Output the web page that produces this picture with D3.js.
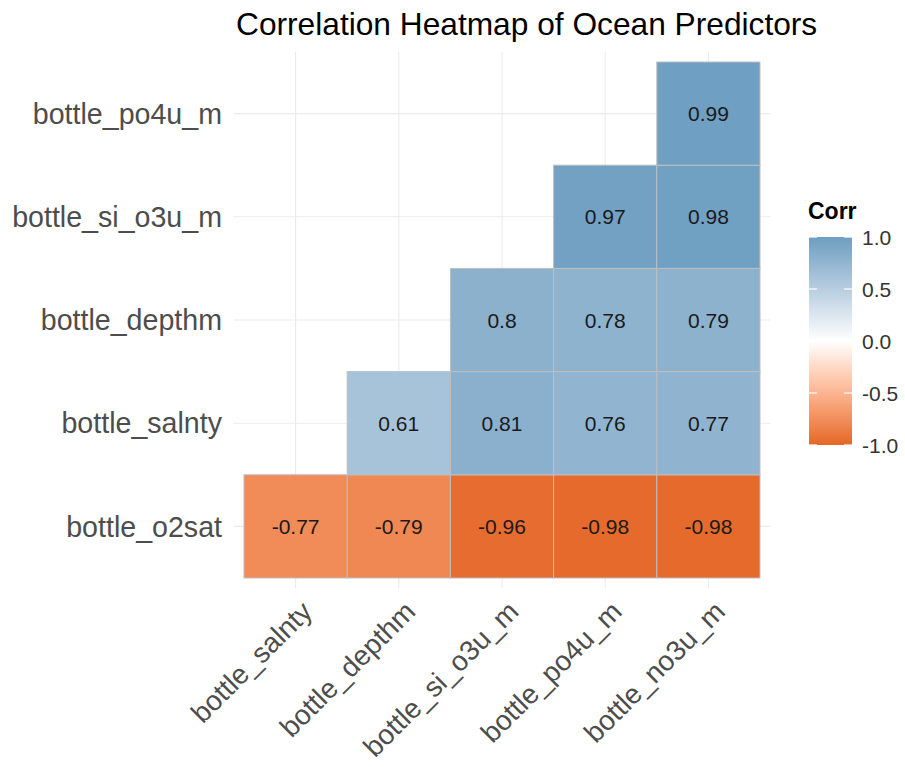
<!DOCTYPE html>
<html>
<head>
<meta charset="utf-8">
<script src="https://cdn.jsdelivr.net/npm/d3@7"></script>
<style>
  body { margin: 0; background: #fff; }
  svg text { font-family: "Liberation Sans", Arial, sans-serif; }
</style>
</head>
<body>
<div id="chart"></div>
<script>
// variables on each axis
var xVars = ["bottle_salnty", "bottle_depthm", "bottle_si_o3u_m", "bottle_po4u_m", "bottle_no3u_m"];
var yVars = ["bottle_o2sat", "bottle_salnty", "bottle_depthm", "bottle_si_o3u_m", "bottle_po4u_m"];

// lower triangle correlations, one row per y variable (null = not drawn)
var corrO2sat   = [-0.77, -0.79, -0.96, -0.98, -0.98];
var corrSalnty  = [null, 0.61, 0.81, 0.76, 0.77];
var corrDepthm  = [null, null, 0.80, 0.78, 0.79];
var corrSiO3    = [null, null, null, 0.97, 0.98];
var corrPo4     = [null, null, null, null, 0.99];

var legendTicks = [1.0, 0.5, 0.0, -0.5, -1.0];

var rows = [corrO2sat, corrSalnty, corrDepthm, corrSiO3, corrPo4];
var cells = [];
rows.forEach(function (r, i) {
    r.forEach(function (v, j) {
        if (v !== null) cells.push({x: xVars[j], y: yVars[i], value: v});
    });
});

var W = 905, H = 767;
var svg = d3.select("#chart").append("svg")
    .attr("width", W).attr("height", H);

// tile area
var x = d3.scaleBand().domain(xVars).range([244, 760]);
var y = d3.scaleBand().domain(yVars).range([578, 62]);
var pad = x.bandwidth() * 0.1;
var panel = {left: 244 - pad, right: 760 + pad, top: 62 - pad, bottom: 578 + pad};

var color = d3.scaleLinear()
    .domain([-1, 0, 1])
    .range(["#E46726", "#ffffff", "#6D9EC1"])
    .interpolate(d3.interpolateLab);

// grid
svg.append("g").selectAll("line")
    .data(xVars).enter().append("line")
    .attr("x1", function (d) { return x(d) + x.bandwidth() / 2; })
    .attr("x2", function (d) { return x(d) + x.bandwidth() / 2; })
    .attr("y1", panel.top).attr("y2", panel.bottom)
    .attr("stroke", "#EBEBEB").attr("stroke-width", 1.1);
svg.append("g").selectAll("line")
    .data(yVars).enter().append("line")
    .attr("y1", function (d) { return y(d) + y.bandwidth() / 2; })
    .attr("y2", function (d) { return y(d) + y.bandwidth() / 2; })
    .attr("x1", panel.left).attr("x2", panel.right)
    .attr("stroke", "#EBEBEB").attr("stroke-width", 1.1);

// tiles
svg.append("g").selectAll("rect")
    .data(cells).enter().append("rect")
    .attr("x", function (d) { return x(d.x); })
    .attr("y", function (d) { return y(d.y); })
    .attr("width", x.bandwidth())
    .attr("height", y.bandwidth())
    .attr("fill", function (d) { return color(d.value); })
    .attr("stroke", "#BEBEBE")
    .attr("stroke-width", 1);

// labels in tiles
svg.append("g").selectAll("text")
    .data(cells).enter().append("text")
    .attr("x", function (d) { return x(d.x) + x.bandwidth() / 2; })
    .attr("y", function (d) { return y(d.y) + y.bandwidth() / 2; })
    .attr("dy", "0.36em")
    .attr("text-anchor", "middle")
    .style("font-size", "21px")
    .style("fill", "#1a1a1a")
    .text(function (d) { return String(+d.value.toFixed(2)); });

// y axis labels
svg.append("g").selectAll("text")
    .data(yVars).enter().append("text")
    .attr("x", 222)
    .attr("y", function (d) { return y(d) + y.bandwidth() / 2; })
    .attr("dy", "0.36em")
    .attr("text-anchor", "end")
    .style("font-size", "28.6px")
    .style("fill", "#4D4D4D")
    .text(function (d) { return d; });

// x axis labels, rotated 45
svg.append("g").selectAll("text")
    .data(xVars).enter().append("text")
    .attr("transform", function (d) {
        return "translate(" + (x(d) + x.bandwidth() / 2 + 4) + ",599) rotate(-45)";
    })
    .attr("dy", "0.72em")
    .attr("text-anchor", "end")
    .style("font-size", "28px")
    .style("fill", "#4D4D4D")
    .text(function (d) { return d; });

// title
svg.append("text")
    .attr("x", 236).attr("y", 35)
    .style("font-size", "31.7px")
    .style("fill", "#000")
    .text("Correlation Heatmap of Ocean Predictors");

// legend
var ly = d3.scaleLinear().domain([-1, 1]).range([445, 237]);
var defs = svg.append("defs");
var grad = defs.append("linearGradient")
    .attr("id", "corrGrad")
    .attr("x1", "0").attr("y1", "1").attr("x2", "0").attr("y2", "0");
d3.range(0, 21).forEach(function (i) {
    var v = -1 + i * 0.1;
    grad.append("stop")
        .attr("offset", (i / 20 * 100) + "%")
        .attr("stop-color", color(v));
});
svg.append("rect")
    .attr("x", 809).attr("y", ly(1))
    .attr("width", 43).attr("height", ly(-1) - ly(1))
    .attr("fill", "url(#corrGrad)");

var lt = svg.append("g");
legendTicks.forEach(function (t) {
    lt.append("line")
        .attr("x1", 809).attr("x2", 817)
        .attr("y1", ly(t)).attr("y2", ly(t))
        .attr("stroke", "#fff").attr("stroke-width", 1.2);
    lt.append("line")
        .attr("x1", 844).attr("x2", 852)
        .attr("y1", ly(t)).attr("y2", ly(t))
        .attr("stroke", "#fff").attr("stroke-width", 1.2);
});
svg.append("g").selectAll("text")
    .data(legendTicks).enter().append("text")
    .attr("x", 862)
    .attr("y", function (d) { return ly(d); })
    .attr("dy", "0.36em")
    .style("font-size", "21px")
    .style("fill", "#333")
    .text(function (d) { return d3.format(".1f")(d).replace("−", "-"); });

svg.append("text")
    .attr("x", 808).attr("y", 219)
    .style("font-size", "23px")
    .style("font-weight", "bold")
    .style("fill", "#000")
    .text("Corr");
</script>
</body>
</html>
